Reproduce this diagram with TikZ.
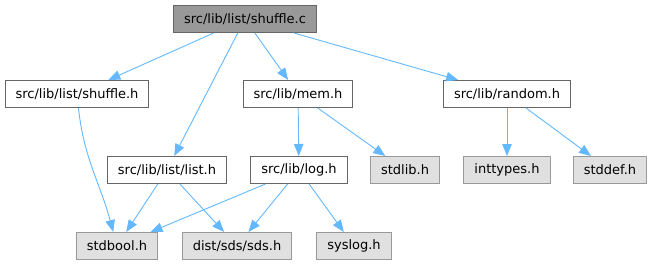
\documentclass[tikz,border=0pt]{standalone}
\usepackage{fontspec}
\setmainfont{DejaVu Sans}
\definecolor{edgeblue}{HTML}{63B8FF}
\definecolor{boxline}{HTML}{666666}
\definecolor{mainbg}{HTML}{999999}
\definecolor{sysline}{HTML}{999999}
\definecolor{sysbg}{HTML}{E0E0E0}
\usepackage{tikz}
\usetikzlibrary{arrows.meta, positioning}
\tikzset{
  hdrfile/.style={draw=boxline, fill=white, line width=1pt,
                  minimum height=27pt, inner xsep=10.5pt, inner ysep=2pt,
                  font=\fontsize{13}{15}\selectfont},
  mainfile/.style={hdrfile, fill=mainbg},
  syshdr/.style={hdrfile, draw=sysline, fill=sysbg},
  incl/.style={-{Triangle[length=12pt, width=9.5pt]}, line width=0.9pt, edgeblue},
}

\begin{document}
\begin{tikzpicture}[x=1pt, y=1pt, on grid]
        \useasboundingbox (0,0) rectangle (653,-265);
        \node[mainfile] (shufflec) at (245,-19) {src/lib/list/shuffle.c};
        \node[hdrfile,
              below left=75pt and 168pt of shufflec]  (shuffleh) {src/lib/list/shuffle.h};
        \node[hdrfile,
              below right=75pt and 53pt of shufflec]  (memh) {src/lib/mem.h};
        \node[hdrfile,
              below right=75pt and 262pt of shufflec] (randomh) {src/lib/random.h};
        \node[hdrfile,
              below left=151pt and 78pt of shufflec]  (listh) {src/lib/list/list.h};
        \node[hdrfile,
              below right=76pt and 1pt of memh]       (logh) {src/lib/log.h};
        \node[syshdr,
              below right=76pt and 107pt of memh]     (stdlibh) {stdlib.h};
        \node[syshdr,
              below=76pt of randomh]                  (inttypesh) {inttypes.h};
        \node[syshdr,
              below right=76pt and 103pt of randomh]  (stddefh) {stddef.h};
        \node[syshdr,
              below left=76pt and 50pt of listh]      (stdboolh) {stdbool.h};
        \node[syshdr,
              below right=76pt and 70pt of listh]     (sdsh) {dist/sds/sds.h};
        \node[syshdr,
              below right=76pt and 55pt of logh]      (syslogh) {syslog.h};

        \draw[incl] (shufflec) -- (shuffleh);
        \draw[incl] (shufflec) -- (listh);
        \draw[incl] (shufflec) -- (memh);
        \draw[incl] (shufflec) -- (randomh);
        \draw[incl] (shuffleh) to[out=-84, in=105] (stdboolh);
        \draw[incl] (listh) -- (stdboolh);
        \draw[incl] (listh) -- (sdsh);
        \draw[incl] (memh) -- (logh);
        \draw[incl] (memh) -- (stdlibh);
        \draw[incl] (logh) -- (stdboolh);
        \draw[incl] (logh) -- (sdsh);
        \draw[incl] (logh) -- (syslogh);
        \draw[incl] (randomh) -- (inttypesh);
        \draw[incl] (randomh) -- (stddefh);
      \end{tikzpicture}
\end{document}
